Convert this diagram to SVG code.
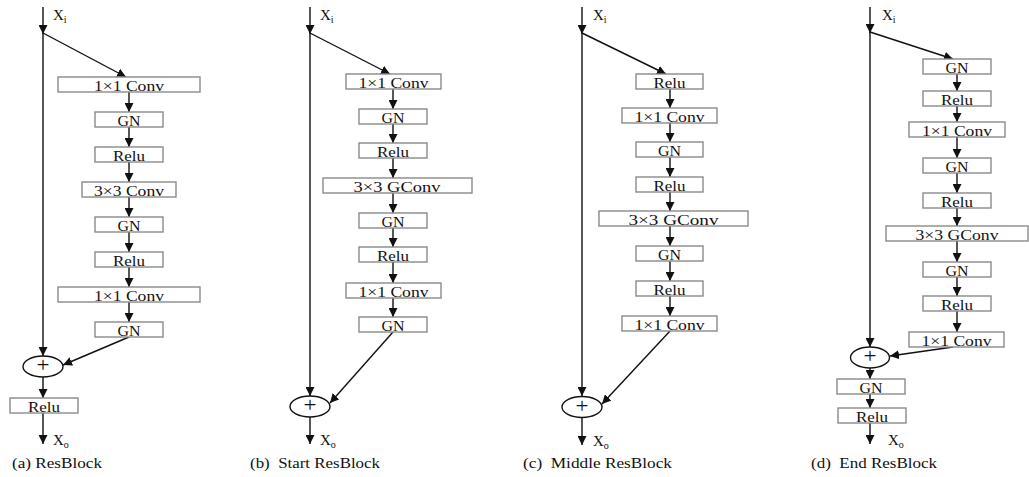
<svg xmlns="http://www.w3.org/2000/svg" width="1029" height="477" viewBox="0 0 1029 477">
  <style>
    .box { fill: #ffffff; stroke: #8a8a8a; stroke-width: 1.4; }
    .lbl { font-family: "Liberation Serif", "Times New Roman", serif; font-size: 14px; fill: #111; text-anchor: middle; }
    .cap { font-family: "Liberation Serif", "Times New Roman", serif; font-size: 15px; fill: #111; }
    .io { font-family: "Liberation Serif", "Times New Roman", serif; font-size: 15px; fill: #111; }
    .sub { font-size: 10px; }
    .plus { font-family: "Liberation Serif", "Times New Roman", serif; font-size: 20px; fill: #111; text-anchor: middle; }
    .sum { fill: #ffffff; stroke: #111; stroke-width: 1.4; }
    .edge { fill: none; stroke: #111; stroke-width: 1.4; marker-end: url(#arrow); }
  </style>
  <defs>
    <marker id="arrow" markerUnits="userSpaceOnUse" markerWidth="9" markerHeight="9" viewBox="0 0 8 8" refX="8" refY="4" orient="auto">
      <path d="M0,0 L8,4 L0,8 z" fill="#111"/>
    </marker>
  </defs>
  <rect width="1029" height="477" fill="#ffffff"/>

  <!-- connectors -->
  <g id="connectors">
    <!-- (a) ResBlock -->
    <line class="edge" x1="43" y1="7" x2="43" y2="34"/>
    <line class="edge" x1="43" y1="33" x2="43" y2="356"/>
    <line class="edge" x1="43" y1="33" x2="126" y2="77"/>
    <line class="edge" x1="129" y1="92" x2="129" y2="112"/>
    <line class="edge" x1="129" y1="127" x2="129" y2="147"/>
    <line class="edge" x1="129" y1="162" x2="129" y2="182"/>
    <line class="edge" x1="129" y1="197" x2="129" y2="217"/>
    <line class="edge" x1="129" y1="232" x2="129" y2="252"/>
    <line class="edge" x1="129" y1="267" x2="129" y2="287"/>
    <line class="edge" x1="129" y1="302" x2="129" y2="322"/>
    <line class="edge" x1="129" y1="337" x2="63" y2="365"/>
    <line class="edge" x1="43" y1="377" x2="43" y2="398"/>
    <line class="edge" x1="43" y1="413" x2="43" y2="444"/>

    <!-- (b) Start ResBlock -->
    <line class="edge" x1="310" y1="7" x2="310" y2="34"/>
    <line class="edge" x1="310" y1="33" x2="310" y2="396"/>
    <line class="edge" x1="310" y1="33" x2="390" y2="74"/>
    <line class="edge" x1="393" y1="89" x2="393" y2="109"/>
    <line class="edge" x1="393" y1="124" x2="393" y2="143"/>
    <line class="edge" x1="393" y1="158" x2="393" y2="178"/>
    <line class="edge" x1="393" y1="193" x2="393" y2="213"/>
    <line class="edge" x1="393" y1="228" x2="393" y2="247"/>
    <line class="edge" x1="393" y1="262" x2="393" y2="283"/>
    <line class="edge" x1="393" y1="298" x2="393" y2="317"/>
    <line class="edge" x1="393" y1="332" x2="330" y2="403"/>
    <line class="edge" x1="310" y1="417" x2="310" y2="444"/>

    <!-- (c) Middle ResBlock -->
    <line class="edge" x1="582" y1="7" x2="582" y2="34"/>
    <line class="edge" x1="582" y1="33" x2="582" y2="396"/>
    <line class="edge" x1="582" y1="33" x2="666" y2="74"/>
    <line class="edge" x1="670" y1="89" x2="670" y2="108"/>
    <line class="edge" x1="670" y1="123" x2="670" y2="142"/>
    <line class="edge" x1="670" y1="157" x2="670" y2="177"/>
    <line class="edge" x1="670" y1="192" x2="670" y2="211"/>
    <line class="edge" x1="670" y1="226" x2="670" y2="246"/>
    <line class="edge" x1="670" y1="261" x2="670" y2="281"/>
    <line class="edge" x1="670" y1="296" x2="670" y2="316"/>
    <line class="edge" x1="670" y1="331" x2="602" y2="404"/>
    <line class="edge" x1="582" y1="418" x2="582" y2="445"/>

    <!-- (d) End ResBlock -->
    <line class="edge" x1="870" y1="7" x2="870" y2="33"/>
    <line class="edge" x1="870" y1="32" x2="870" y2="347"/>
    <line class="edge" x1="870" y1="32" x2="953" y2="59"/>
    <line class="edge" x1="957" y1="74" x2="957" y2="91"/>
    <line class="edge" x1="957" y1="106" x2="957" y2="122"/>
    <line class="edge" x1="957" y1="137" x2="957" y2="158"/>
    <line class="edge" x1="957" y1="173" x2="957" y2="193"/>
    <line class="edge" x1="957" y1="208" x2="957" y2="226"/>
    <line class="edge" x1="957" y1="241" x2="957" y2="262"/>
    <line class="edge" x1="957" y1="277" x2="957" y2="296"/>
    <line class="edge" x1="957" y1="311" x2="957" y2="332"/>
    <line class="edge" x1="953" y1="347" x2="890" y2="356"/>
    <line class="edge" x1="870" y1="368" x2="870" y2="379"/>
    <line class="edge" x1="870" y1="394" x2="870" y2="408"/>
    <line class="edge" x1="870" y1="423" x2="870" y2="444"/>
  </g>

  <!-- (a) ResBlock -->
  <g id="a-in"><text class="io" x="53" y="20">X<tspan class="sub" dy="3">i</tspan></text></g>
  <g id="a-conv1"><rect class="box" x="58" y="77" width="142" height="15"/><text class="lbl" x="129" y="90.5" textLength="70" lengthAdjust="spacingAndGlyphs">1×1 Conv</text></g>
  <g id="a-gn1"><rect class="box" x="95" y="112" width="68" height="15"/><text class="lbl" x="129" y="125.5" textLength="23" lengthAdjust="spacingAndGlyphs">GN</text></g>
  <g id="a-relu1"><rect class="box" x="95" y="147" width="68" height="15"/><text class="lbl" x="129" y="160.5" textLength="32" lengthAdjust="spacingAndGlyphs">Relu</text></g>
  <g id="a-conv3"><rect class="box" x="82" y="182" width="94" height="15"/><text class="lbl" x="129" y="195.5" textLength="70" lengthAdjust="spacingAndGlyphs">3×3 Conv</text></g>
  <g id="a-gn2"><rect class="box" x="95" y="217" width="68" height="15"/><text class="lbl" x="129" y="230.5" textLength="23" lengthAdjust="spacingAndGlyphs">GN</text></g>
  <g id="a-relu2"><rect class="box" x="95" y="252" width="68" height="15"/><text class="lbl" x="129" y="265.5" textLength="32" lengthAdjust="spacingAndGlyphs">Relu</text></g>
  <g id="a-conv1b"><rect class="box" x="58" y="287" width="142" height="15"/><text class="lbl" x="129" y="300.5" textLength="70" lengthAdjust="spacingAndGlyphs">1×1 Conv</text></g>
  <g id="a-gn3"><rect class="box" x="95" y="322" width="68" height="15"/><text class="lbl" x="129" y="335.5" textLength="23" lengthAdjust="spacingAndGlyphs">GN</text></g>
  <g id="a-sum"><ellipse class="sum" cx="43" cy="366.5" rx="20" ry="10.5"/><text class="plus" x="43" y="372" textLength="13" lengthAdjust="spacingAndGlyphs">+</text></g>
  <g id="a-relu-out"><rect class="box" x="10" y="398" width="68" height="15"/><text class="lbl" x="44" y="411.5" textLength="32" lengthAdjust="spacingAndGlyphs">Relu</text></g>
  <g id="a-out"><text class="io" x="53" y="445">X<tspan class="sub" dy="3">o</tspan></text></g>
  <g id="a-caption"><text class="cap" x="12" y="468" textLength="90" lengthAdjust="spacingAndGlyphs">(a) ResBlock</text></g>

  <!-- (b) Start ResBlock -->
  <g id="b-in"><text class="io" x="320" y="20">X<tspan class="sub" dy="3">i</tspan></text></g>
  <g id="b-conv1"><rect class="box" x="346" y="74" width="95" height="15"/><text class="lbl" x="393.5" y="87.5" textLength="70" lengthAdjust="spacingAndGlyphs">1×1 Conv</text></g>
  <g id="b-gn1"><rect class="box" x="359" y="109" width="68" height="15"/><text class="lbl" x="393" y="122.5" textLength="23" lengthAdjust="spacingAndGlyphs">GN</text></g>
  <g id="b-relu1"><rect class="box" x="359" y="143" width="68" height="15"/><text class="lbl" x="393" y="156.5" textLength="32" lengthAdjust="spacingAndGlyphs">Relu</text></g>
  <g id="b-gconv"><rect class="box" x="323" y="178" width="149" height="15"/><text class="lbl" x="397" y="191.5" textLength="87" lengthAdjust="spacingAndGlyphs">3×3 GConv</text></g>
  <g id="b-gn2"><rect class="box" x="359" y="213" width="68" height="15"/><text class="lbl" x="393" y="226.5" textLength="23" lengthAdjust="spacingAndGlyphs">GN</text></g>
  <g id="b-relu2"><rect class="box" x="359" y="247" width="68" height="15"/><text class="lbl" x="393" y="260.5" textLength="32" lengthAdjust="spacingAndGlyphs">Relu</text></g>
  <g id="b-conv1b"><rect class="box" x="346" y="283" width="95" height="15"/><text class="lbl" x="393.5" y="296.5" textLength="70" lengthAdjust="spacingAndGlyphs">1×1 Conv</text></g>
  <g id="b-gn3"><rect class="box" x="359" y="317" width="68" height="15"/><text class="lbl" x="393" y="330.5" textLength="23" lengthAdjust="spacingAndGlyphs">GN</text></g>
  <g id="b-sum"><ellipse class="sum" cx="310" cy="406.5" rx="20" ry="10.5"/><text class="plus" x="310" y="412" textLength="13" lengthAdjust="spacingAndGlyphs">+</text></g>
  <g id="b-out"><text class="io" x="320" y="445">X<tspan class="sub" dy="3">o</tspan></text></g>
  <g id="b-caption"><text class="cap" x="250" y="468" xml:space="preserve" textLength="130" lengthAdjust="spacingAndGlyphs">(b)  Start ResBlock</text></g>

  <!-- (c) Middle ResBlock -->
  <g id="c-in"><text class="io" x="593" y="20">X<tspan class="sub" dy="3">i</tspan></text></g>
  <g id="c-relu1"><rect class="box" x="636" y="74" width="67" height="15"/><text class="lbl" x="669.5" y="87.5" textLength="32" lengthAdjust="spacingAndGlyphs">Relu</text></g>
  <g id="c-conv1"><rect class="box" x="622" y="108" width="95" height="15"/><text class="lbl" x="669.5" y="121.5" textLength="70" lengthAdjust="spacingAndGlyphs">1×1 Conv</text></g>
  <g id="c-gn1"><rect class="box" x="636" y="142" width="67" height="15"/><text class="lbl" x="669.5" y="155.5" textLength="23" lengthAdjust="spacingAndGlyphs">GN</text></g>
  <g id="c-relu2"><rect class="box" x="636" y="177" width="67" height="15"/><text class="lbl" x="669.5" y="190.5" textLength="32" lengthAdjust="spacingAndGlyphs">Relu</text></g>
  <g id="c-gconv"><rect class="box" x="599" y="211" width="149" height="15"/><text class="lbl" x="673.5" y="224.5" textLength="90" lengthAdjust="spacingAndGlyphs">3×3 GConv</text></g>
  <g id="c-gn2"><rect class="box" x="636" y="246" width="67" height="15"/><text class="lbl" x="669.5" y="259.5" textLength="23" lengthAdjust="spacingAndGlyphs">GN</text></g>
  <g id="c-relu3"><rect class="box" x="636" y="281" width="67" height="15"/><text class="lbl" x="669.5" y="294.5" textLength="32" lengthAdjust="spacingAndGlyphs">Relu</text></g>
  <g id="c-conv1b"><rect class="box" x="622" y="316" width="95" height="15"/><text class="lbl" x="669.5" y="329.5" textLength="70" lengthAdjust="spacingAndGlyphs">1×1 Conv</text></g>
  <g id="c-sum"><ellipse class="sum" cx="582" cy="407" rx="20" ry="10.5"/><text class="plus" x="582" y="412.5" textLength="13" lengthAdjust="spacingAndGlyphs">+</text></g>
  <g id="c-out"><text class="io" x="593" y="446">X<tspan class="sub" dy="3">o</tspan></text></g>
  <g id="c-caption"><text class="cap" x="523" y="468" xml:space="preserve" textLength="149" lengthAdjust="spacingAndGlyphs">(c)  Middle ResBlock</text></g>

  <!-- (d) End ResBlock -->
  <g id="d-in"><text class="io" x="882" y="20">X<tspan class="sub" dy="3">i</tspan></text></g>
  <g id="d-gn1"><rect class="box" x="923" y="59" width="68" height="15"/><text class="lbl" x="957" y="72.5" textLength="23" lengthAdjust="spacingAndGlyphs">GN</text></g>
  <g id="d-relu1"><rect class="box" x="923" y="91" width="68" height="15"/><text class="lbl" x="957" y="104.5" textLength="32" lengthAdjust="spacingAndGlyphs">Relu</text></g>
  <g id="d-conv1"><rect class="box" x="909" y="122" width="96" height="15"/><text class="lbl" x="957" y="135.5" textLength="70" lengthAdjust="spacingAndGlyphs">1×1 Conv</text></g>
  <g id="d-gn2"><rect class="box" x="923" y="158" width="68" height="15"/><text class="lbl" x="957" y="171.5" textLength="23" lengthAdjust="spacingAndGlyphs">GN</text></g>
  <g id="d-relu2"><rect class="box" x="923" y="193" width="68" height="15"/><text class="lbl" x="957" y="206.5" textLength="32" lengthAdjust="spacingAndGlyphs">Relu</text></g>
  <g id="d-gconv"><rect class="box" x="886" y="226" width="142" height="15"/><text class="lbl" x="957" y="239.5" textLength="83" lengthAdjust="spacingAndGlyphs">3×3 GConv</text></g>
  <g id="d-gn3"><rect class="box" x="923" y="262" width="68" height="15"/><text class="lbl" x="957" y="275.5" textLength="23" lengthAdjust="spacingAndGlyphs">GN</text></g>
  <g id="d-relu3"><rect class="box" x="923" y="296" width="68" height="15"/><text class="lbl" x="957" y="309.5" textLength="32" lengthAdjust="spacingAndGlyphs">Relu</text></g>
  <g id="d-conv1b"><rect class="box" x="909" y="332" width="95" height="15"/><text class="lbl" x="956.5" y="345.5" textLength="70" lengthAdjust="spacingAndGlyphs">1×1 Conv</text></g>
  <g id="d-sum"><ellipse class="sum" cx="870" cy="357.5" rx="19.5" ry="10.5"/><text class="plus" x="870" y="363" textLength="13" lengthAdjust="spacingAndGlyphs">+</text></g>
  <g id="d-gn-out"><rect class="box" x="837" y="379" width="68" height="15"/><text class="lbl" x="871" y="392.5" textLength="23" lengthAdjust="spacingAndGlyphs">GN</text></g>
  <g id="d-relu-out"><rect class="box" x="838" y="408" width="68" height="15"/><text class="lbl" x="872" y="421.5" textLength="32" lengthAdjust="spacingAndGlyphs">Relu</text></g>
  <g id="d-out"><text class="io" x="888" y="445">X<tspan class="sub" dy="3">o</tspan></text></g>
  <g id="d-caption"><text class="cap" x="811" y="468" xml:space="preserve" textLength="126" lengthAdjust="spacingAndGlyphs">(d)  End ResBlock</text></g>
</svg>
